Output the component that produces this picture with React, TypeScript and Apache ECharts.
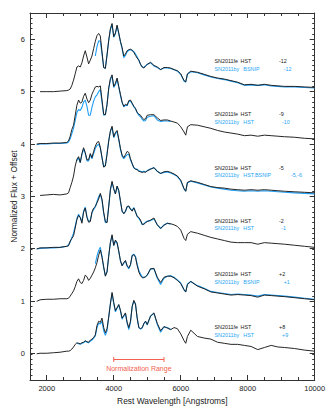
import React, { useEffect, useRef } from 'react';
import * as echarts from 'echarts';

// Rest wavelength grid [Angstroms]
const WAVELENGTH = [
  1700, 1800, 2000, 2200, 2400, 2600,
  2650, 2700, 2750, 2800, 2850, 2900, 2950, 3000, 3050, 3100,
  3150, 3200, 3250, 3300, 3350, 3400, 3450, 3500, 3550, 3600,
  3650, 3700, 3750, 3800, 3850, 3900, 3950, 4000, 4050, 4100,
  4150, 4200, 4250, 4300, 4350, 4400, 4450, 4500, 4550, 4600,
  4650, 4700, 4750, 4800, 4850, 4900, 4950, 5000, 5100, 5200,
  5300, 5400, 5500, 5600, 5700, 5800, 5900, 6000, 6100, 6150,
  6200, 6300, 6500, 6700, 6900, 7100, 7300, 7500, 7700, 7900,
  8100, 8300, 8500, 8700, 8900, 9100, 9400, 9700, 10000,
];

// SN2011fe HST (black), normalized flux + offset
const FE_M12 = [
  null, 5.0, 5.0, 5.0, 5.01, 5.02,
  5.03, 5.05, 5.12, 5.22, 5.34, 5.47, 5.49, 5.47, 5.55, 5.68,
  5.78, 5.66, 5.53, 5.6, 5.68, 5.82, 5.96, 6.07, 6.11, 6.06,
  5.76, 5.46, 5.44, 5.7, 5.98, 6.2, 6.3, 6.05, 6.12, 6.27,
  6.12, 5.96, 5.84, 5.68, 5.72, 5.78, 5.8, 5.81, 5.79, 5.75,
  5.69, 5.64, 5.6, 5.52, 5.47, 5.45, 5.49, 5.52, 5.56, 5.5,
  5.47, 5.42, 5.46, 5.46, 5.45, 5.42, 5.4, 5.34, 5.21, 5.19,
  5.34, 5.39, 5.37, 5.33, 5.29, 5.26, 5.24, 5.21, 5.18, 5.13,
  5.14, 5.12, 5.14, 5.12, 5.11, 5.1, 5.1, 5.09, 5.08,
];
const FE_M9 = [
  4.0, 4.01, 4.01, 4.02, 4.02, 4.03,
  4.06, 4.15, 4.28, 4.36, 4.55, 4.74, 4.84, 4.78, 4.8, 4.91,
  4.97, 4.86, 4.79, 4.84, 4.95, 5.02, 5.09, 5.1, 5.09, 5.11,
  4.84, 4.57, 4.56, 4.75, 5.07, 5.25, 5.32, 5.1, 5.16, 5.26,
  5.1, 4.95, 4.8, 4.72, 4.76, 4.74, 4.83, 4.84, 4.78, 4.72,
  4.68, 4.6, 4.57, 4.55, 4.5, 4.47, 4.48, 4.55, 4.56, 4.56,
  4.5, 4.45, 4.46, 4.46, 4.44, 4.42, 4.4, 4.33, 4.23, 4.17,
  4.33, 4.37, 4.36, 4.33, 4.3, 4.26, 4.23, 4.21, 4.19, 4.16,
  4.17, 4.15, 4.17, 4.16, 4.15, 4.14, 4.13, 4.11, 4.1,
];
const FE_M5 = [
  null, 3.02, 3.03, 3.04, 3.03, 3.05,
  3.07, 3.17, 3.27, 3.39, 3.58, 3.71, 3.76, 3.65, 3.82, 3.93,
  3.84, 3.7, 3.7, 3.82, 3.74, 3.86, 3.96, 4.03, 4.05, 3.94,
  3.74, 3.56, 3.58, 3.8, 4.06, 4.25, 4.34, 4.14, 4.22, 4.26,
  4.1, 3.92, 3.79, 3.74, 3.8, 3.86, 3.84, 3.72, 3.63, 3.55,
  3.52, 3.51, 3.48, 3.47, 3.46, 3.47, 3.46, 3.49, 3.52, 3.55,
  3.48, 3.44, 3.47, 3.48, 3.46, 3.43, 3.39, 3.31, 3.15, 3.1,
  3.27, 3.3, 3.27, 3.23, 3.19, 3.17, 3.16, 3.14, 3.13, 3.12,
  3.13, 3.12, 3.13, 3.12, 3.11, 3.1, 3.09, 3.08, 3.07,
];
const FE_M2 = [
  2.0, 2.02, 2.02, 2.03, 2.03, 2.05,
  2.06, 2.15, 2.2, 2.25, 2.4, 2.56, 2.64, 2.6, 2.49, 2.7,
  2.78, 2.6, 2.51, 2.52, 2.7, 2.78, 2.81, 2.88, 2.95, 3.06,
  2.95, 2.7, 2.52, 2.5, 2.8, 3.13, 3.29, 3.15, 3.05, 3.2,
  3.12, 2.92, 2.72, 2.67, 2.72, 2.81, 2.82, 2.76, 2.72, 2.78,
  2.7, 2.62, 2.6, 2.55, 2.47, 2.47, 2.5, 2.52, 2.55, 2.59,
  2.46, 2.39, 2.45, 2.49, 2.48, 2.46, 2.43, 2.36, 2.2, 2.16,
  2.28, 2.33, 2.3, 2.26, 2.22, 2.19, 2.16, 2.13, 2.12, 2.12,
  2.12, 2.09, 2.12, 2.11, 2.1, 2.09, 2.07, 2.05, 2.03,
];
const FE_P2 = [
  1.0, 1.03, 1.04, 1.04, 1.05, 1.05,
  1.06, 1.1, 1.15, 1.2, 1.28, 1.38, 1.43, 1.36, 1.34, 1.4,
  1.5, 1.47, 1.4, 1.44, 1.5, 1.56, 1.64, 1.74, 1.88, 1.98,
  1.84, 1.66, 1.48, 1.56, 1.86, 2.12, 2.27, 2.07, 2.17, 2.12,
  1.96, 1.78, 1.68, 1.74, 1.78, 1.68, 1.64, 1.7, 1.87, 1.89,
  1.84, 1.68, 1.56, 1.49, 1.45, 1.45, 1.47, 1.5, 1.62, 1.63,
  1.46, 1.36, 1.46, 1.48, 1.48, 1.45, 1.4, 1.34, 1.22, 1.18,
  1.32, 1.38, 1.29, 1.24, 1.18, 1.16, 1.14, 1.12, 1.13, 1.12,
  1.11, 1.08, 1.12, 1.11, 1.1, 1.09, 1.07, 1.05, 1.03,
];
const FE_P8 = [
  0.0, 0.01, 0.01, 0.02, 0.03, 0.05,
  0.05, 0.06, 0.09, 0.13, 0.18, 0.21, 0.2, 0.19, 0.21, 0.22,
  0.25, 0.23, 0.22, 0.26, 0.28, 0.31, 0.36, 0.54, 0.62, 0.6,
  0.68, 0.5, 0.4, 0.48, 0.7, 0.95, 1.17, 0.98, 0.82, 0.88,
  0.94, 0.83, 0.68, 0.73, 0.78, 0.6, 0.5, 0.62, 0.9, 1.02,
  0.95, 0.68, 0.5, 0.48, 0.5, 0.58, 0.62, 0.56, 0.72, 0.78,
  0.58, 0.44, 0.52, 0.49, 0.46, 0.5, 0.48, 0.38, 0.25, 0.2,
  0.33, 0.45, 0.33, 0.3, 0.28, 0.22, 0.2, 0.18, 0.18, 0.16,
  0.14, 0.08, 0.12, 0.16, 0.13, 0.12, 0.1, 0.07, 0.05,
];

// SN2011by (blue), normalized flux + offset
const BY_M12 = [
  null, null, null, null, null, null,
  null, null, null, null, null, null, null, null, null, null,
  null, null, null, null, null, null, 5.68, 5.86, 5.97, 5.96,
  5.72, 5.46, 5.45, 5.7, 5.97, 6.18, 6.28, 6.04, 6.1, 6.25,
  6.1, 5.95, 5.82, 5.65, 5.69, 5.76, 5.79, 5.8, 5.79, 5.76,
  5.72, 5.66, 5.6, 5.52, 5.47, 5.46, 5.49, 5.52, 5.55, 5.49,
  5.46, 5.42, 5.45, 5.45, 5.44, 5.42, 5.39, 5.33, 5.2, 5.18,
  5.33, 5.38, 5.36, 5.32, 5.28, 5.25, 5.23, 5.2, 5.17, 5.12,
  5.13, 5.12, 5.13, 5.11, 5.1, 5.09, 5.09, 5.08, 5.07,
];
const BY_M10 = [
  3.99, 4.0, 4.0, 4.01, 4.01, 4.02,
  4.04, 4.1, 4.2, 4.3, 4.45, 4.6, 4.66, 4.64, 4.7, 4.8,
  4.84, 4.72, 4.55, 4.55, 4.7, 4.82, 4.9, 4.94, 5.0, 5.04,
  4.8, 4.55, 4.56, 4.76, 5.05, 5.22, 5.3, 5.08, 5.13, 5.24,
  5.08, 4.93, 4.79, 4.71, 4.74, 4.73, 4.81, 4.82, 4.77, 4.71,
  4.67, 4.6, 4.55, 4.52, 4.47, 4.44, 4.45, 4.51, 4.53, 4.54,
  4.46, 4.43, 4.44, 4.44, 4.43, null, null, null, null, null,
  null, null, null, null, null, null, null, null, null, null,
  null, null, null, null, null, null, null, null, null,
];
const BY_M5 = [
  null, null, null, null, null, null,
  null, null, null, null, null, 3.68, 3.74, 3.64, 3.8, 3.9,
  3.82, 3.68, 3.68, 3.8, 3.72, 3.82, 3.92, 3.97, 4.0, 3.92,
  3.74, 3.57, 3.6, 3.82, 4.06, 4.24, 4.32, 4.12, 4.2, 4.24,
  4.08, 3.9, 3.77, 3.72, 3.76, 3.8, 3.8, 3.7, 3.62, 3.55,
  3.53, 3.52, 3.49, 3.48, 3.47, 3.48, 3.47, 3.49, 3.53, 3.55,
  3.48, 3.44, 3.46, 3.47, 3.45, 3.42, 3.38, 3.3, 3.14, 3.1,
  3.26, 3.29, 3.26, 3.22, 3.18, 3.16, 3.14, 3.12, 3.11, 3.1,
  3.11, 3.1, 3.11, 3.1, 3.09, 3.08, 3.07, 3.06, 3.05,
];
const BY_M1 = [
  2.0, 2.01, 2.02, 2.02, 2.03, 2.05,
  2.08, 2.13, 2.22, 2.3, 2.44, 2.58, 2.66, 2.6, 2.52, 2.72,
  2.8, 2.62, 2.52, 2.55, 2.69, 2.75, 2.8, 2.9, 3.0, 3.04,
  2.92, 2.68, 2.5, 2.52, 2.82, 3.12, 3.27, 3.14, 3.05, 3.19,
  3.1, 2.9, 2.72, 2.68, 2.71, 2.8, 2.81, 2.76, 2.74, 2.79,
  2.71, 2.62, 2.58, 2.53, 2.46, 2.48, 2.51, 2.53, 2.54, 2.57,
  2.46, 2.39, 2.46, 2.49, 2.47, null, null, null, null, null,
  null, null, null, null, null, null, null, null, null, null,
  null, null, null, null, null, null, null, null, null,
];
const BY_P1 = [
  null, null, null, null, null, null,
  null, null, null, null, null, null, null, null, null, null,
  null, null, null, null, null, null, 1.72, 1.86, 1.97, 2.03,
  1.86, 1.64, 1.49, 1.57, 1.87, 2.12, 2.25, 2.06, 2.15, 2.11,
  1.95, 1.77, 1.68, 1.73, 1.77, 1.67, 1.62, 1.69, 1.88, 1.9,
  1.86, 1.71, 1.59, 1.52, 1.47, 1.46, 1.47, 1.5, 1.62, 1.62,
  1.44, 1.32, 1.44, 1.48, 1.49, 1.46, 1.41, 1.35, 1.22, 1.18,
  1.33, 1.38, 1.3, 1.25, 1.19, 1.17, 1.15, 1.13, 1.14, 1.13,
  1.12, 1.1, 1.13, 1.12, 1.11, 1.1, 1.08, 1.06, 1.04,
];
const BY_P9 = [
  null, null, null, null, null, null,
  null, null, null, null, null, 0.2, 0.19, 0.18, 0.2, 0.21,
  0.24, 0.22, 0.21, 0.24, 0.26, 0.3, 0.34, 0.5, 0.58, 0.57,
  0.62, 0.44, 0.35, 0.44, 0.7, 0.96, 1.15, 0.95, 0.8, 0.87,
  0.93, 0.82, 0.66, 0.72, 0.76, 0.58, 0.46, 0.6, 0.9, 1.0,
  0.94, 0.68, 0.5, 0.47, 0.49, 0.57, 0.62, 0.55, 0.72, 0.77,
  0.56, 0.41, 0.51, 0.5, 0.47, null, null, null, null, null,
  null, null, null, null, null, null, null, null, null, null,
  null, null, null, null, null, null, null, null, null,
];

const FE_SPECTRA = [FE_M12, FE_M9, FE_M5, FE_M2, FE_P2, FE_P8];
const BY_SPECTRA = [BY_M12, BY_M10, BY_M5, BY_M1, BY_P1, BY_P9];

const FE_NAME = 'SN2011fe';
const BY_NAME = 'SN2011by';
const FE_SOURCES = ['HST', 'HST', 'HST', 'HST', 'HST', 'HST'];
const FE_EPOCHS = ['-12', '-9', '-5', '-2', '+2', '+8'];
const BY_SOURCES = ['BSNIP', 'HST', 'HST,BSNIP', 'HST', 'BSNIP', 'HST'];
const BY_EPOCHS = ['-12', '-10', '-5,-6', '-1', '+1', '+9'];

const X_MAJOR_TICKS = [2000, 4000, 6000, 8000, 10000];
const Y_MAJOR_TICKS = [0, 1, 2, 3, 4, 5, 6];
const NORM_RANGE = [4000, 5500];
const NORM_LEVEL = -0.1;
const NORM_LABEL = 'Normalization Range';
const X_TITLE = 'Rest Wavelength [Angstroms]';
const Y_TITLE = 'Normalized Flux + Offset';

// axis ranges
const X_MIN = 1500;
const X_MAX = 10000;
const Y_MIN = -0.5;
const Y_MAX = 6.5;

const FONT = 'Liberation Sans, Arial, sans-serif';
const BLACK = '#1a1a1a';
const BLUE = '#1e9ef5';
const BLUE_TEXT = '#27a6f5';
const RED = '#f4604f';
const AXIS = '#333';

const toPairs = (flux: (number | null)[]) =>
  WAVELENGTH.map((w, i) => (flux[i] == null ? null : [w, flux[i] as number])).filter(
    (p) => p !== null
  ) as number[][];

export default function App() {
  const ref = useRef<HTMLDivElement>(null);

  useEffect(() => {
    document.body.style.margin = '0';
    if (!ref.current) return;
    const chart = echarts.init(ref.current, null, { renderer: 'svg' });

    const baseX = {
      type: 'value' as const,
      min: X_MIN,
      max: X_MAX,
      interval: 500,
      splitLine: { show: false },
      axisLine: { show: true, onZero: false, lineStyle: { color: AXIS, width: 1 } },
      axisTick: { show: true, inside: true, length: 3, lineStyle: { color: AXIS, width: 1 } },
    };
    const baseY = {
      type: 'value' as const,
      min: Y_MIN,
      max: Y_MAX,
      interval: 0.1,
      splitLine: { show: false },
      axisLine: { show: true, onZero: false, lineStyle: { color: AXIS, width: 1 } },
      axisTick: { show: true, inside: true, length: 2.5, lineStyle: { color: AXIS, width: 1 } },
    };

    const blueSeries = BY_SPECTRA.map((s, i) => ({
      type: 'line',
      name: BY_NAME + ' ' + BY_EPOCHS[i],
      data: toPairs(s),
      symbol: 'none',
      showSymbol: false,
      lineStyle: { color: BLUE, width: 1.1 },
      itemStyle: { color: BLUE },
      z: 2,
      silent: true,
    }));
    const blackSeries = FE_SPECTRA.map((s, i) => ({
      type: 'line',
      name: FE_NAME + ' ' + FE_EPOCHS[i],
      data: toPairs(s),
      symbol: 'none',
      showSymbol: false,
      lineStyle: { color: BLACK, width: 0.95 },
      itemStyle: { color: BLACK },
      z: 3,
      silent: true,
    }));

    const crisp = (v: number) => Math.round(v - 0.5) + 0.5;

    const xTickSeries = {
      type: 'custom',
      coordinateSystem: 'cartesian2d',
      data: X_MAJOR_TICKS.map((v) => [v, Y_MIN]),
      encode: { x: 0, y: 1 },
      silent: true,
      z: 5,
      renderItem: (_p: any, api: any) => {
        const v = api.value(0);
        const b = api.coord([v, Y_MIN]);
        const t = api.coord([v, Y_MAX]);
        const x = crisp(b[0]);
        return {
          type: 'group',
          children: [
            { type: 'line', shape: { x1: x, y1: b[1], x2: x, y2: b[1] - 5 }, style: { stroke: AXIS, lineWidth: 1 } },
            { type: 'line', shape: { x1: x, y1: t[1], x2: x, y2: t[1] + 5 }, style: { stroke: AXIS, lineWidth: 1 } },
          ],
        };
      },
    };
    const yTickSeries = {
      type: 'custom',
      coordinateSystem: 'cartesian2d',
      data: Y_MAJOR_TICKS.map((v) => [X_MIN, v]),
      encode: { x: 0, y: 1 },
      silent: true,
      z: 5,
      renderItem: (_p: any, api: any) => {
        const v = api.value(1);
        const l = api.coord([X_MIN, v]);
        const r = api.coord([X_MAX, v]);
        const y = crisp(l[1]);
        return {
          type: 'group',
          children: [
            { type: 'line', shape: { x1: l[0], y1: y, x2: l[0] + 5, y2: y }, style: { stroke: AXIS, lineWidth: 1 } },
            { type: 'line', shape: { x1: r[0], y1: y, x2: r[0] - 5, y2: y }, style: { stroke: AXIS, lineWidth: 1 } },
          ],
        };
      },
    };
    const normSeries = {
      type: 'custom',
      coordinateSystem: 'cartesian2d',
      data: [[NORM_RANGE[0], NORM_RANGE[1], NORM_LEVEL]],
      encode: { x: [0, 1], y: 2 },
      silent: true,
      z: 6,
      renderItem: (_p: any, api: any) => {
        const a = api.coord([api.value(0), api.value(2)]);
        const b = api.coord([api.value(1), api.value(2)]);
        const y = crisp(a[1]);
        const st = { stroke: RED, lineWidth: 1 };
        return {
          type: 'group',
          children: [
            { type: 'line', shape: { x1: a[0], y1: y, x2: b[0], y2: y }, style: st },
            { type: 'line', shape: { x1: a[0], y1: y - 2.5, x2: a[0], y2: y + 2.5 }, style: st },
            { type: 'line', shape: { x1: b[0], y1: y - 2.5, x2: b[0], y2: y + 2.5 }, style: st },
            {
              type: 'text',
              x: (a[0] + b[0]) / 2,
              y: y + 8.5,
              style: {
                text: NORM_LABEL,
                fill: RED,
                fontSize: 7,
                fontFamily: FONT,
                align: 'center',
                textAlign: 'center',
                verticalAlign: 'middle',
                textVerticalAlign: 'middle',
              },
            },
          ],
        };
      },
    };

    const textEl = (text: string, x: number, y: number, color: string) => ({
      type: 'text',
      x,
      y,
      silent: true,
      style: {
        text,
        fill: color,
        fontSize: 5.4,
        fontFamily: FONT,
        verticalAlign: 'middle',
        textVerticalAlign: 'middle',
      },
    });

    const blueEpochX = [283.7, 282, 291, 281.3, 283.7, 282];
    const labels: any[] = [];
    FE_EPOCHS.forEach((ep, i) => {
      const yb = 61 + i * 53.25;
      const yl = yb + 7.6;
      labels.push(textEl(FE_NAME, 214.5, yb, BLACK));
      labels.push(textEl(FE_SOURCES[i], 240.5, yb, BLACK));
      labels.push(textEl(ep, 279, yb, BLACK));
      labels.push(textEl(BY_NAME, 214.5, yl, BLUE_TEXT));
      labels.push(textEl(BY_SOURCES[i], 243.3, yl, BLUE_TEXT));
      labels.push(textEl(BY_EPOCHS[i], blueEpochX[i], yl, BLUE_TEXT));
    });
    labels.push({
      type: 'text',
      x: 14,
      y: 196.5,
      rotation: Math.PI / 2,
      silent: true,
      style: {
        text: Y_TITLE,
        fill: '#222',
        fontSize: 8.4,
        fontFamily: FONT,
        align: 'center',
        textAlign: 'center',
        verticalAlign: 'middle',
        textVerticalAlign: 'middle',
      },
    });

    chart.setOption({
      animation: false,
      backgroundColor: '#ffffff',
      grid: { left: 30, right: 19.3, top: 13, bottom: 30, containLabel: false },
      xAxis: [
        {
          ...baseX,
          position: 'bottom',
          axisLabel: {
            show: true,
            formatter: (v: number) => (Math.round(v) % 2000 === 0 ? String(Math.round(v)) : ''),
            fontSize: 7.5,
            color: '#222',
            margin: 4,
            fontFamily: FONT,
          },
          name: X_TITLE,
          nameLocation: 'middle',
          nameGap: 14,
          nameTextStyle: { fontSize: 8.4, color: '#222', fontFamily: FONT },
        },
        { ...baseX, position: 'top', axisLabel: { show: false } },
      ],
      yAxis: [
        {
          ...baseY,
          position: 'left',
          axisLabel: {
            show: true,
            formatter: (v: number) => (Math.abs(v - Math.round(v)) < 1e-6 ? String(Math.round(v)) : ''),
            fontSize: 7.5,
            color: '#222',
            margin: 5,
            fontFamily: FONT,
          },
        },
        { ...baseY, position: 'right', axisLabel: { show: false } },
      ],
      graphic: { elements: labels },
      series: [...blueSeries, ...blackSeries, xTickSeries, yTickSeries, normSeries],
    });

    return () => {
      chart.dispose();
    };
  }, []);

  return <div ref={ref} style={{ width: 334, height: 410 }} />;
}
